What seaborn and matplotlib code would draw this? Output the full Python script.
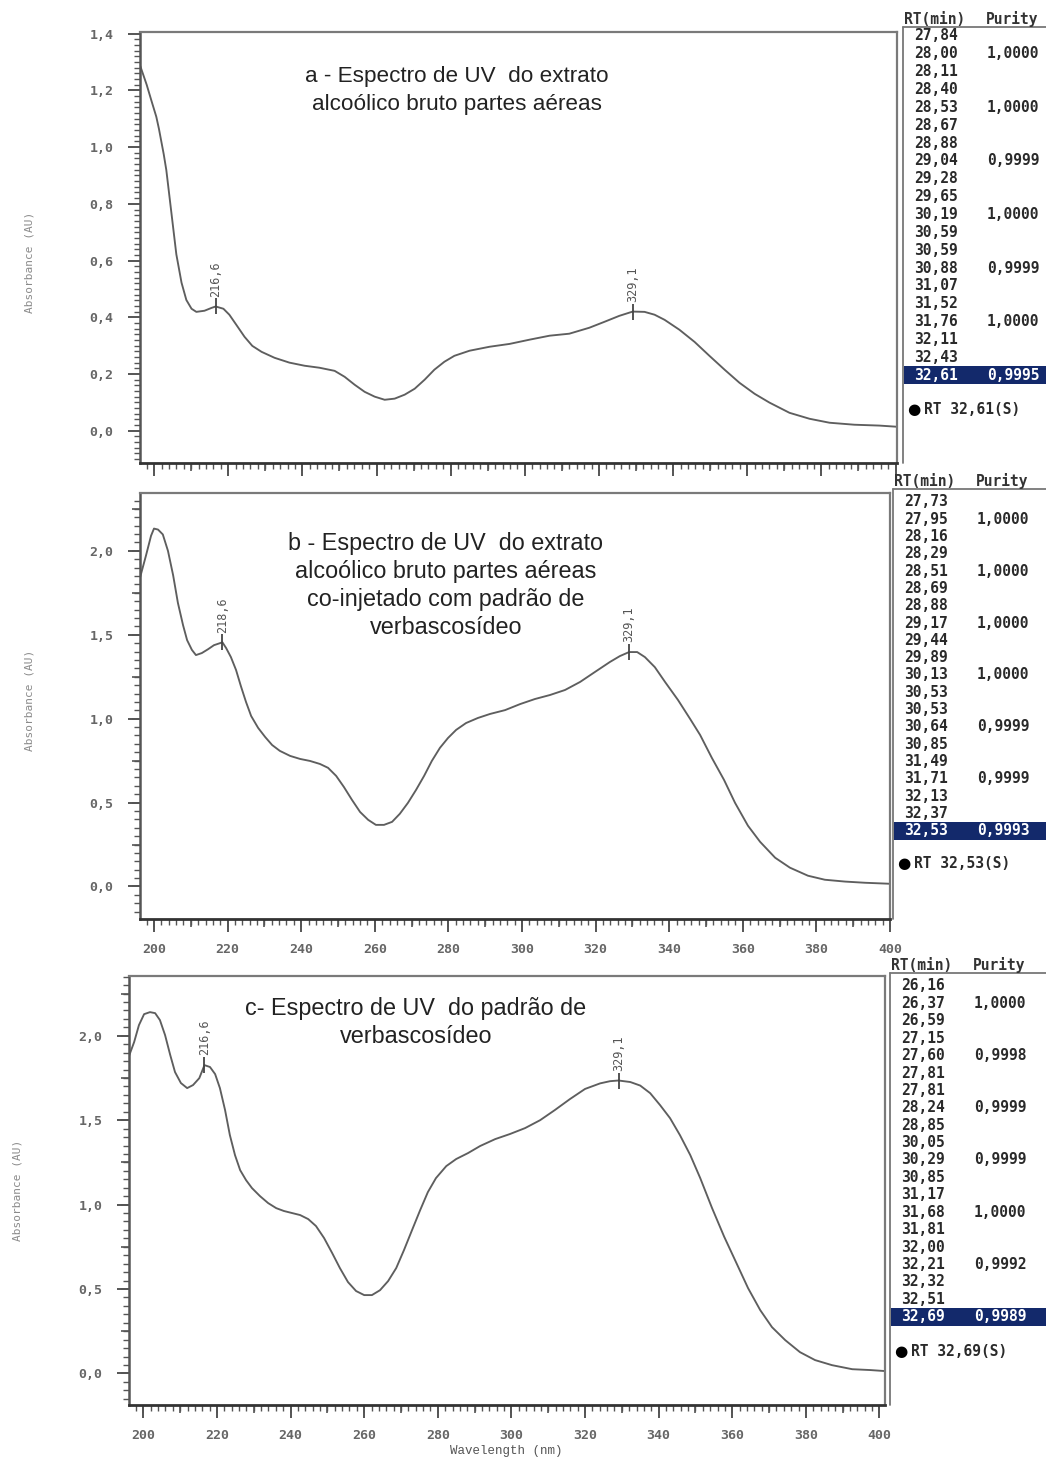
import numpy as np
import pandas as pd
import matplotlib
matplotlib.use("Agg")
import matplotlib.pyplot as plt
import seaborn as sns
from matplotlib.ticker import MultipleLocator, FuncFormatter

# ---------------- spectra (wavelength in nm, absorbance in AU) ----------------
wl_a = [196.3, 198.0, 199.3, 200.6, 201.3, 202.6, 203.3, 204.7, 206.0, 207.4, 208.7, 210.1,
        211.4, 213.6, 215.5, 216.6, 218.7, 220.3, 222.2, 224.4, 226.5, 229.0, 232.5,
        236.5, 240.6, 244.6, 248.7, 251.4, 254.1, 256.8, 259.5, 262.2, 264.9, 267.6,
        270.3, 273.0, 275.6, 278.3, 281.0, 285.1, 290.5, 295.9, 301.3, 306.7, 312.0,
        317.4, 321.5, 325.5, 329.1, 332.3, 335.0, 337.7, 341.7, 345.8, 349.8, 353.9,
        357.9, 362.0, 366.0, 371.4, 376.8, 382.2, 388.9, 395.6, 400.2]
abs_a = [1.285, 1.220, 1.163, 1.107, 1.065, 0.975, 0.919, 0.765, 0.622, 0.522, 0.461, 0.430,
         0.419, 0.423, 0.433, 0.438, 0.430, 0.409, 0.373, 0.331, 0.299, 0.278, 0.257,
         0.240, 0.229, 0.222, 0.211, 0.190, 0.162, 0.137, 0.120, 0.109, 0.113, 0.127,
         0.148, 0.180, 0.215, 0.243, 0.264, 0.282, 0.296, 0.306, 0.321, 0.335, 0.342,
         0.363, 0.384, 0.405, 0.420, 0.419, 0.409, 0.391, 0.356, 0.313, 0.264, 0.215,
         0.169, 0.130, 0.099, 0.063, 0.042, 0.028, 0.021, 0.018, 0.014]

wl_b = [196.2, 197.8, 199.2, 200.0, 201.1, 202.4, 203.8, 205.2, 206.5, 207.9, 209.0,
        210.3, 211.4, 213.0, 214.7, 216.3, 218.6, 219.6, 220.9, 222.3, 223.6, 225.0,
        226.4, 228.3, 230.2, 232.1, 234.2, 237.0, 239.7, 242.4, 245.1, 247.3, 249.5,
        251.6, 253.8, 256.0, 258.2, 260.3, 262.5, 264.7, 266.8, 269.0, 271.2, 273.4,
        275.5, 277.7, 279.9, 282.1, 284.8, 288.0, 291.3, 295.4, 299.5, 303.5, 307.6,
        311.7, 315.8, 319.8, 323.9, 326.6, 329.1, 331.3, 333.4, 336.1, 338.9, 342.4,
        345.7, 348.4, 351.6, 354.9, 357.9, 361.4, 364.7, 368.8, 372.8, 377.7, 382.3,
        387.8, 393.2, 400.0]
abs_b = [1.840, 1.970, 2.090, 2.133, 2.127, 2.098, 2.000, 1.855, 1.690, 1.557, 1.468,
         1.410, 1.379, 1.391, 1.414, 1.438, 1.455, 1.421, 1.367, 1.290, 1.195, 1.100,
         1.016, 0.945, 0.891, 0.843, 0.808, 0.778, 0.760, 0.748, 0.730, 0.707, 0.659,
         0.593, 0.516, 0.444, 0.397, 0.367, 0.367, 0.385, 0.433, 0.498, 0.575, 0.659,
         0.748, 0.826, 0.885, 0.933, 0.974, 1.004, 1.028, 1.051, 1.087, 1.117, 1.141,
         1.171, 1.219, 1.278, 1.338, 1.373, 1.397, 1.397, 1.367, 1.307, 1.218, 1.111,
         0.998, 0.903, 0.766, 0.635, 0.498, 0.362, 0.266, 0.171, 0.112, 0.064, 0.040,
         0.029, 0.022, 0.016]

wl_c = [196.1, 197.5, 198.8, 200.2, 201.8, 203.2, 204.5, 205.9, 207.3, 208.6, 210.2,
        211.9, 213.5, 215.2, 216.6, 218.1, 219.5, 220.8, 222.2, 223.5, 224.9, 226.3,
        227.9, 229.5, 231.7, 233.9, 236.1, 238.2, 240.4, 242.6, 244.8, 246.9, 249.1,
        251.3, 253.4, 255.6, 257.8, 260.0, 262.1, 264.3, 266.5, 268.7, 270.8, 273.0,
        275.2, 277.3, 279.5, 282.3, 285.0, 288.2, 291.5, 295.6, 299.6, 303.7, 307.8,
        311.8, 315.9, 320.0, 324.1, 326.8, 329.1, 332.3, 335.0, 337.7, 340.4, 343.1, 345.8,
        348.6, 351.3, 354.5, 357.8, 361.0, 364.3, 367.6, 370.8, 374.4, 378.4, 382.5,
        387.1, 392.6, 397.5, 401.5]
abs_c = [1.880, 1.963, 2.063, 2.128, 2.140, 2.134, 2.093, 2.004, 1.886, 1.785, 1.720,
         1.690, 1.708, 1.749, 1.826, 1.815, 1.773, 1.690, 1.560, 1.412, 1.293, 1.204,
         1.145, 1.098, 1.050, 1.009, 0.979, 0.962, 0.950, 0.938, 0.914, 0.873, 0.802,
         0.713, 0.624, 0.541, 0.488, 0.464, 0.464, 0.493, 0.547, 0.624, 0.730, 0.849,
         0.967, 1.074, 1.157, 1.228, 1.270, 1.305, 1.347, 1.388, 1.418, 1.453, 1.500,
         1.560, 1.625, 1.685, 1.718, 1.731, 1.735, 1.726, 1.705, 1.660, 1.589, 1.512, 1.411,
         1.293, 1.157, 0.980, 0.810, 0.660, 0.505, 0.375, 0.274, 0.197, 0.126, 0.079,
         0.049, 0.025, 0.020, 0.014]

peaks_a = [216.6, 329.1]
peaks_b = [218.6, 329.1]
peaks_c = [216.6, 329.1]

titles = [
    "a - Espectro de UV  do extrato\nalcoólico bruto partes aéreas",
    "b - Espectro de UV  do extrato\nalcoólico bruto partes aéreas\nco-injetado com padrão de\nverbascosídeo",
    "c- Espectro de UV  do padrão de\nverbascosídeo",
]

rt_a = ["27,84", "28,00", "28,11", "28,40", "28,53", "28,67", "28,88", "29,04", "29,28", "29,65",
        "30,19", "30,59", "30,59", "30,88", "31,07", "31,52", "31,76", "32,11", "32,43", "32,61"]
pur_a = ["", "1,0000", "", "", "1,0000", "", "", "0,9999", "", "",
         "1,0000", "", "", "0,9999", "", "", "1,0000", "", "", "0,9995"]
rt_b = ["27,73", "27,95", "28,16", "28,29", "28,51", "28,69", "28,88", "29,17", "29,44", "29,89",
        "30,13", "30,53", "30,53", "30,64", "30,85", "31,49", "31,71", "32,13", "32,37", "32,53"]
pur_b = ["", "1,0000", "", "", "1,0000", "", "", "1,0000", "", "",
         "1,0000", "", "", "0,9999", "", "", "0,9999", "", "", "0,9993"]
rt_c = ["26,16", "26,37", "26,59", "27,15", "27,60", "27,81", "27,81", "28,24", "28,85", "30,05",
        "30,29", "30,85", "31,17", "31,68", "31,81", "32,00", "32,21", "32,32", "32,51", "32,69"]
pur_c = ["", "1,0000", "", "", "0,9998", "", "", "0,9999", "", "",
         "0,9999", "", "", "1,0000", "", "", "0,9992", "", "", "0,9989"]

# ---------------- style ----------------
sns.set_theme(style="white")
plt.rcParams["font.family"] = ["DejaVu Sans"]
W, H = 1046, 1459
fig = plt.figure(figsize=(W / 100, H / 100), dpi=100)
fig.patch.set_facecolor("white")

MONO = "DejaVu Sans Mono"
SANS = "Liberation Sans"
CURVE = "#5e5e5e"
NAVY = "#13296b"


def px_rect(x0, y0, x1, y1):
    return [x0 / W, 1 - y1 / H, (x1 - x0) / W, (y1 - y0) / H]


def fx(x):
    return x / W


def fy(y):
    return 1 - y / H


def comma(v, nd):
    return f"{v:.{nd}f}".replace(".", ",")


panels = [
    dict(rect=px_rect(140, 32, 897, 463), xlim=(196.2, 400.4), ylim=(-0.114, 1.406),
         ymaj=0.2, ymin=0.02, ymid=None, wl=wl_a, ab=abs_a, peaks=peaks_a,
         xlabels=False, title_xy=(457, 66), tsize=16.2, tls=1.45, ylab=(30, 262)),
    dict(rect=px_rect(140, 493, 890, 919), xlim=(196.2, 400.0), ylim=(-0.194, 2.345),
         ymaj=0.5, ymin=0.05, ymid=0.25, wl=wl_b, ab=abs_b, peaks=peaks_b,
         xlabels=True, title_xy=(446, 532), tsize=16.8, tls=1.28, ylab=(30, 700)),
    dict(rect=px_rect(129, 976, 885, 1405), xlim=(196.1, 401.5), ylim=(-0.187, 2.354),
         ymaj=0.5, ymin=0.05, ymid=0.25, wl=wl_c, ab=abs_c, peaks=peaks_c,
         xlabels=True, title_xy=(416, 997), tsize=16.8, tls=1.28, ylab=(18, 1190)),
]

for p, title in zip(panels, titles):
    ax = fig.add_axes(p["rect"])
    df = pd.DataFrame({"Wavelength": p["wl"], "Absorbance": p["ab"]})
    sns.lineplot(data=df, x="Wavelength", y="Absorbance", ax=ax, color=CURVE,
                 lw=1.35, sort=False, estimator=None)
    ax.set_xlim(*p["xlim"])
    ax.set_ylim(*p["ylim"])
    ax.set_xlabel("")
    ax.set_ylabel("")

    for side in ["top", "right"]:
        ax.spines[side].set_color("#7a7a7a")
        ax.spines[side].set_linewidth(1.6)
    ax.spines["left"].set_color("#555555")
    ax.spines["left"].set_linewidth(1.8)
    ax.spines["bottom"].set_color("#333333")
    ax.spines["bottom"].set_linewidth(2.0)

    ax.xaxis.set_major_locator(MultipleLocator(20))
    ax.xaxis.set_minor_locator(MultipleLocator(2))
    ax.yaxis.set_major_locator(MultipleLocator(p["ymaj"]))
    ax.yaxis.set_minor_locator(MultipleLocator(p["ymin"]))
    ax.tick_params(axis="both", which="both", direction="out", colors="#555555",
                   bottom=True, left=True, top=False, right=False)
    ax.tick_params(axis="x", which="major", length=9, width=1.4, pad=8,
                   labelsize=9.5, labelcolor="#666666")
    ax.tick_params(axis="x", which="minor", length=4, width=1.0)
    ax.tick_params(axis="y", which="major", length=9, width=1.4, pad=10,
                   labelsize=9.5, labelcolor="#666666")
    ax.tick_params(axis="y", which="minor", length=4, width=1.0)
    ax.yaxis.set_major_formatter(FuncFormatter(lambda v, pos: comma(v, 1)))
    if p["xlabels"]:
        ax.xaxis.set_major_formatter(FuncFormatter(lambda v, pos: f"{v:.0f}"))
    else:
        ax.set_xticklabels([])
    for lab in ax.get_xticklabels() + ax.get_yticklabels():
        lab.set_fontfamily(MONO)
        lab.set_fontweight("bold")

    # medium ticks every 10 nm / every quarter unit
    sec = ax.secondary_xaxis("bottom")
    sec.set_xticks(np.arange(200, 401, 10))
    sec.tick_params(length=6, width=1.2, colors="#555555", labelbottom=False)
    sec.spines["bottom"].set_visible(False)
    if p["ymid"]:
        secy = ax.secondary_yaxis("left")
        secy.set_yticks(np.arange(0, 2.3, p["ymid"]))
        secy.tick_params(length=6, width=1.2, colors="#555555", labelleft=False)
        secy.spines["left"].set_visible(False)

    # peak markers with rotated wavelength labels
    for pk in p["peaks"]:
        yv = p["ab"][p["wl"].index(pk)]
        ax.plot([pk], [yv], marker="|", ms=12, mew=1.3, color="#444444")
        ax.annotate(comma(pk, 1), xy=(pk, yv), xytext=(0, 7),
                    textcoords="offset points", rotation=90, ha="center", va="bottom",
                    fontsize=8.5, family=MONO, color="#555555")

    # panel title
    tx, ty = p["title_xy"]
    fig.text(fx(tx), fy(ty), title, ha="center", va="top", fontsize=p["tsize"],
             family=SANS, color="#222222", linespacing=p["tls"])

    # y axis label
    lx, ly = p["ylab"]
    fig.text(fx(lx), fy(ly), "Absorbance (AU)", rotation=90, ha="center",
             va="center", fontsize=8, family=MONO, color="#8a8a8a")

fig.text(fx(506), fy(1451), "Wavelength (nm)", ha="center", va="center",
         fontsize=9, family="Liberation Mono", color="#555555")

# ---------------- peak purity tables ----------------
tables = [
    dict(rt=rt_a, pur=pur_a, head_y=19, row0=36, step=17.85, box_x=903, box_bottom=463, rt_y=409),
    dict(rt=rt_b, pur=pur_b, head_y=481, row0=502, step=17.3, box_x=893, box_bottom=919, rt_y=864),
    dict(rt=rt_c, pur=pur_c, head_y=965, row0=986, step=17.4, box_x=890, box_bottom=1405, rt_y=1351),
]

FS = 10.5
for t in tables:
    bx = t["box_x"]
    fig.text(fx(bx + 1), fy(t["head_y"]), "RT(min)", ha="left", va="center",
             fontsize=FS, family=MONO, fontweight="bold", color="#333333")
    fig.text(fx(bx + 83), fy(t["head_y"]), "Purity", ha="left", va="center",
             fontsize=FS, family=MONO, fontweight="bold", color="#333333")
    line_y = t["head_y"] + 8
    fig.add_artist(plt.Line2D([fx(bx), fx(W)], [fy(line_y), fy(line_y)],
                              color="#777777", lw=1.3))
    fig.add_artist(plt.Line2D([fx(bx), fx(bx)], [fy(line_y), fy(t["box_bottom"])],
                              color="#777777", lw=1.3))
    n = len(t["rt"])
    for i, (r, pu) in enumerate(zip(t["rt"], t["pur"])):
        yy = t["row0"] + i * t["step"]
        col = "#2a2a2a"
        if i == n - 1:
            fig.add_artist(plt.Rectangle((fx(bx + 1), fy(yy + 9)), fx(W - bx - 1),
                                         18 / H, color=NAVY, lw=0))
            col = "white"
        fig.text(fx(bx + 11), fy(yy), r, ha="left", va="center", fontsize=FS,
                 family=MONO, fontweight="bold", color=col)
        if pu:
            fig.text(fx(bx + 84), fy(yy), pu, ha="left", va="center", fontsize=FS,
                     family=MONO, fontweight="bold", color=col)
    fig.text(fx(bx + 4), fy(t["rt_y"]), "●", ha="left", va="center", fontsize=11,
             color="black")
    fig.text(fx(bx + 21), fy(t["rt_y"]), f"RT {t['rt'][-1]}(S)", ha="left",
             va="center", fontsize=FS, family=MONO, fontweight="bold", color="#2a2a2a")

fig.savefig("out.png", dpi=100, facecolor="white")
